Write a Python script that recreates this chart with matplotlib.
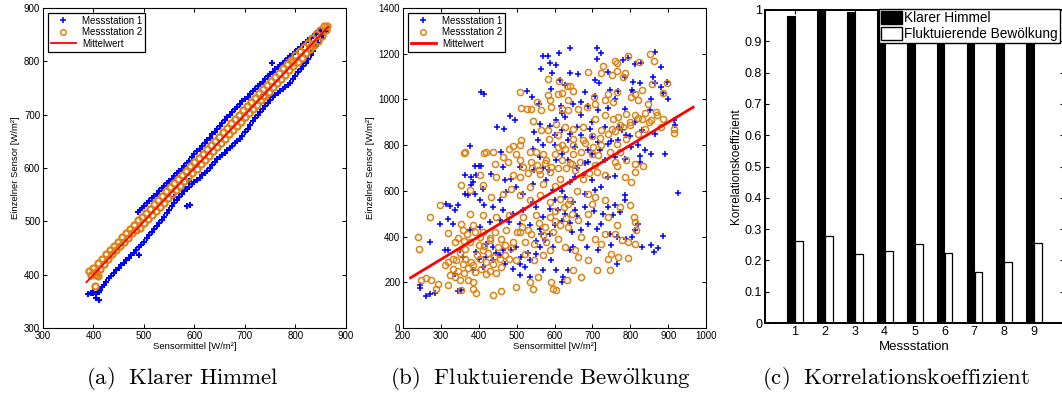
import numpy as np
import matplotlib
matplotlib.use('Agg')
import matplotlib.pyplot as plt
from matplotlib.patches import Patch
from matplotlib.lines import Line2D

plt.rcParams['font.family'] = ['Liberation Sans', 'DejaVu Sans']
plt.rcParams['mathtext.fontset'] = 'cm'

# --- (a) Klarer Himmel ---
a_s1_low_x = [390, 395, 400, 405, 410, 413, 417, 420, 425, 430, 435, 440, 445, 450, 455, 460, 465, 470, 475, 480,
              485, 490, 495, 500, 505, 510, 515, 520, 525, 530, 535, 540, 545, 550, 555, 560, 565, 570, 575, 580,
              585, 590, 595, 600, 605, 610, 615, 620, 625, 630, 635, 640, 645, 650, 655, 660, 665, 670, 675, 680,
              685, 690, 695, 700, 705, 710, 715, 720, 725, 730, 735, 740, 745, 750, 755, 760, 765, 770, 775, 780,
              785, 790, 795, 800, 805, 810, 815, 820, 825, 830, 835, 840, 845, 850, 855, 860]
a_s1_low_y = [363, 365, 366, 364, 368, 372, 376, 380, 387, 393, 398, 403, 409, 413, 418, 422, 427, 432, 437, 441,
              446, 451, 456, 462, 468, 474, 480, 486, 492, 497, 503, 509, 515, 521, 528, 534, 540, 546, 552, 557,
              561, 565, 570, 574, 578, 582, 586, 591, 595, 600, 605, 611, 616, 621, 625, 629, 634, 638, 642, 646,
              650, 654, 660, 667, 674, 681, 688, 694, 699, 705, 711, 717, 722, 728, 733, 737, 741, 745, 749, 752,
              756, 760, 766, 773, 780, 786, 791, 797, 804, 812, 820, 828, 834, 842, 850, 856]
a_s1_up_x = [488, 492, 496, 500, 505, 510, 515, 520, 525, 530, 535, 540, 545, 550, 555, 560, 565, 570, 575, 580,
             585, 590, 595, 600, 605, 610, 615, 620, 625, 630, 635, 640, 645, 650, 655, 660, 665, 670, 675, 680,
             685, 690, 695, 700, 705, 710, 715, 720, 725, 730, 735, 740, 745, 750, 755, 760, 765, 770, 775, 780,
             785, 790, 795, 800, 805, 810, 815, 820, 825, 830, 835, 840, 845, 850]
a_s1_up_y = [517, 521, 525, 529, 534, 539, 543, 548, 552, 557, 562, 566, 571, 575, 580, 585, 590, 594, 599, 604,
             609, 614, 620, 626, 631, 636, 641, 647, 652, 657, 663, 668, 674, 679, 684, 690, 695, 700, 705, 710,
             715, 720, 725, 729, 734, 739, 744, 749, 754, 758, 762, 767, 772, 776, 780, 785, 789, 793, 797, 801,
             806, 810, 814, 818, 823, 827, 832, 836, 840, 844, 848, 852, 856, 859]
a_s1_extra_x = [405, 410, 400, 490, 585, 592, 560, 753, 590, 582]
a_s1_extra_y = [357, 352, 368, 437, 528, 530, 545, 796, 575, 560]

a_s2_up_x = [392, 400, 408, 416, 424, 432, 440, 448, 456, 464, 472, 480, 488, 496, 504, 512, 520, 528, 536, 544,
             552, 560, 568, 576, 584, 592, 600, 608, 616, 624, 632, 640, 648, 656, 664, 672, 680, 688, 696, 704,
             712, 720, 728, 736, 744, 752, 760, 768, 776, 784, 792, 800, 808, 816, 824, 832, 840, 848, 856, 862]
a_s2_up_y = [406, 412, 421, 430, 438, 447, 454, 462, 470, 478, 486, 494, 502, 508, 516, 524, 532, 540, 548, 556,
             564, 571, 579, 587, 595, 603, 611, 619, 627, 635, 643, 651, 659, 667, 675, 684, 692, 700, 708, 716,
             724, 732, 740, 748, 756, 764, 771, 779, 787, 795, 803, 811, 819, 827, 835, 843, 851, 859, 866, 866]
a_s2_low_x = [396, 404, 412, 420, 428, 436, 444, 452, 460, 468, 476, 484, 492, 500, 508, 516, 524, 532, 540, 548,
              556, 564, 572, 580, 588, 596, 604, 612, 620, 628, 636, 644, 652, 660, 668, 676, 684, 692, 700, 708,
              716, 724, 732, 740, 748, 756, 764, 772, 780, 788, 796, 804, 812, 820, 828, 836, 844, 852, 860]
a_s2_low_y = [400, 405, 411, 420, 430, 438, 446, 454, 461, 469, 478, 484, 488, 496, 504, 511, 519, 527, 535, 543,
              551, 559, 567, 575, 583, 591, 599, 607, 615, 623, 631, 639, 647, 655, 663, 671, 679, 687, 695, 703,
              711, 719, 727, 735, 743, 751, 759, 767, 775, 783, 791, 799, 807, 815, 823, 831, 839, 848, 858]
a_s2_extra_x = [402, 405, 408, 735, 795, 830]
a_s2_extra_y = [378, 399, 397, 735, 798, 828]

a_mean_x = [386, 865]
a_mean_y = [386, 865]

# --- (b) Fluktuierende Bewoelkung ---
b_s1 = [(569, 1189), (583, 1189), (587, 1159), (565, 1135), (594, 1116), (405, 1032), (414, 1022), (527, 1035),
        (590, 1044), (483, 926), (495, 912), (449, 879), (466, 872), (547, 858), (562, 894), (376, 795), (587, 882),
        (600, 843), (459, 770), (389, 707), (400, 710), (407, 710), (508, 704), (556, 821), (569, 799), (543, 785),
        (561, 748), (464, 704),
        (641, 1226), (711, 1226), (724, 1205), (711, 1178), (612, 1203), (605, 1149), (640, 1117), (663, 1110),
        (706, 1086), (717, 1072), (793, 1183), (865, 1207), (812, 1156), (828, 1161), (781, 1171), (786, 1098),
        (808, 1076), (825, 1072), (805, 1043), (865, 1073), (882, 1054), (896, 1075), (887, 1028), (854, 1003),
        (614, 1086), (629, 1062), (680, 1033), (706, 1014), (746, 1043), (768, 1037), (808, 1033), (649, 981),
        (671, 989), (689, 970), (715, 955), (742, 964), (786, 960), (852, 952), (617, 970), (605, 909), (627, 923),
        (671, 930), (693, 872), (733, 879), (777, 865), (812, 901), (830, 865), (865, 850), (916, 909), (918, 890),
        (619, 865), (636, 821), (671, 843), (698, 836), (715, 814), (742, 804), (768, 821), (790, 843), (803, 792),
        (689, 777), (654, 792), (619, 763), (759, 748), (786, 741), (825, 751), (825, 726), (856, 763), (891, 763),
        (733, 734), (689, 726), (636, 734), (605, 734),
        (363, 668), (380, 661), (393, 668), (433, 675), (468, 646), (486, 654), (380, 624), (385, 639), (371, 581),
        (363, 585), (389, 588), (402, 559), (415, 537), (314, 541), (323, 533), (336, 515), (345, 537), (297, 457),
        (319, 479), (332, 457), (270, 376), (310, 340), (319, 340), (350, 340), (358, 311), (244, 187), (244, 177),
        (262, 140), (272, 148), (284, 153), (345, 162), (354, 168), (336, 238), (385, 253), (411, 267), (437, 296),
        (455, 318), (464, 340), (486, 340), (499, 355), (512, 311), (508, 231), (521, 267), (534, 296), (552, 325),
        (561, 355), (574, 384), (587, 413), (561, 435), (534, 449), (508, 457), (481, 464), (455, 471), (429, 464),
        (402, 442), (376, 428), (569, 486), (587, 522), (543, 551), (517, 588), (499, 617), (543, 632), (578, 646),
        (596, 603), (437, 530), (455, 559), (473, 595), (411, 610), (464, 515), (490, 500), (517, 515), (552, 530),
        (420, 369), (437, 355), (393, 333), (596, 355), (591, 296), (569, 253), (534, 223),
        (925, 592), (787, 584), (786, 559), (759, 537), (772, 508), (755, 493), (742, 530), (729, 500), (705, 512),
        (680, 530), (654, 515), (627, 500), (610, 515), (821, 457), (812, 430), (805, 398), (830, 355), (856, 362),
        (872, 352), (863, 333), (887, 401), (790, 391), (764, 398), (746, 413), (711, 435), (724, 457), (689, 457),
        (671, 428), (645, 420), (641, 340), (649, 355), (685, 355), (715, 340), (750, 362), (764, 282), (605, 253),
        (623, 223), (636, 253), (619, 202), (654, 661), (676, 668), (698, 646), (742, 661), (759, 664), (627, 573),
        (649, 551), (680, 588), (707, 603), (724, 617), (545, 690), (570, 700), (585, 690),
        (400, 300), (420, 310), (445, 330), (470, 280), (490, 260), (510, 280), (530, 330), (550, 380), (565, 410),
        (600, 450), (620, 470), (640, 460), (660, 490), (600, 560), (620, 600), (640, 640), (660, 700), (680, 720),
        (700, 760), (720, 780), (750, 820), (770, 880), (800, 840), (820, 800), (840, 780), (600, 800), (640, 850),
        (660, 880), (700, 900), (620, 940), (560, 980), (540, 1010), (860, 1100), (880, 1140), (900, 1000),
        (760, 1000), (740, 1120)]
b_s2 = [(584, 1091), (510, 1033), (512, 964), (527, 958), (539, 960), (554, 989), (565, 952), (587, 996), (591, 967),
        (583, 1018), (543, 906), (565, 865), (583, 868), (586, 828), (512, 821), (508, 799), (481, 785), (490, 795),
        (420, 770), (414, 766), (437, 770), (363, 770), (360, 766), (464, 748), (442, 719), (499, 763), (534, 770),
        (552, 770), (569, 763), (578, 734), (508, 734), (517, 704), (539, 726), (477, 726),
        (852, 1200), (862, 1167), (759, 1168), (766, 1159), (728, 1145), (724, 1116), (689, 1120), (794, 1189),
        (824, 1164), (751, 1105), (764, 1124), (786, 1116), (781, 1098), (613, 1081), (632, 1057), (641, 1057),
        (648, 1035), (608, 1022), (619, 1028), (705, 1011), (742, 1022), (764, 1033), (812, 1022), (831, 1043),
        (858, 1066), (896, 1072), (887, 1028), (636, 996), (663, 960), (685, 967), (707, 981), (733, 996), (755, 989),
        (803, 1011), (821, 996), (847, 981), (869, 945), (887, 916), (915, 872), (916, 853), (619, 960), (636, 952),
        (707, 916), (733, 930), (755, 916), (768, 923), (790, 938), (812, 930), (831, 916), (856, 909), (605, 894),
        (627, 879), (649, 872), (676, 879), (724, 865), (751, 872), (772, 887), (799, 887), (839, 872), (610, 843),
        (649, 828), (676, 824), (702, 792), (724, 799), (764, 804), (790, 828), (821, 850), (610, 792), (627, 785),
        (649, 763), (671, 770), (698, 763), (715, 755), (746, 770), (772, 770), (619, 734), (645, 719), (667, 726),
        (759, 726), (790, 734), (812, 719), (834, 707), (764, 707), (707, 712),
        (240, 398), (242, 344), (270, 486), (297, 537), (319, 416), (336, 377), (354, 457), (354, 624), (376, 603),
        (411, 624), (433, 573), (464, 588), (486, 610), (508, 581), (534, 559), (561, 581), (587, 551), (446, 661),
        (490, 668), (508, 661), (402, 668), (260, 220), (248, 209), (275, 209), (292, 194), (288, 172), (319, 187),
        (323, 231), (336, 223), (350, 209), (371, 209), (385, 202), (354, 165), (393, 153), (385, 172), (437, 143),
        (459, 162), (499, 180), (534, 202), (543, 172), (556, 223), (591, 202), (596, 172), (319, 289), (341, 296),
        (358, 282), (385, 274), (402, 304), (420, 289), (437, 282), (459, 267), (481, 304), (499, 296), (521, 325),
        (547, 296), (569, 318), (587, 340), (363, 347), (376, 377), (402, 398), (429, 384), (459, 391), (490, 377),
        (521, 377), (547, 369), (578, 377), (358, 428), (385, 449), (411, 420), (442, 420), (473, 428), (508, 420),
        (539, 413), (569, 406), (596, 420), (376, 500), (411, 493), (446, 486), (481, 493), (517, 486), (552, 493),
        (587, 486), (534, 617), (569, 632), (561, 675), (587, 683), (332, 304), (310, 274), (332, 260),
        (711, 683), (733, 668), (786, 661), (812, 683), (802, 639), (689, 588), (707, 573), (733, 559), (799, 537),
        (772, 530), (810, 486), (812, 464), (814, 428), (764, 449), (759, 413), (733, 413), (724, 369), (707, 391),
        (777, 384), (794, 377), (812, 366), (750, 325), (768, 311), (793, 308), (742, 304), (746, 253), (711, 253),
        (689, 296), (663, 311), (649, 253), (671, 223), (632, 212), (605, 165), (654, 340), (627, 355), (610, 391),
        (636, 442), (663, 471), (689, 500), (636, 544), (614, 566), (698, 544), (742, 486), (671, 398),
        (540, 700), (560, 690), (575, 720), (590, 705), (530, 680), (555, 715),
        (345, 250), (360, 240), (372, 262), (390, 245), (405, 258), (418, 236), (430, 250), (445, 240), (455, 300),
        (470, 320), (395, 320), (410, 340), (425, 330), (440, 310), (350, 330), (365, 300), (380, 290), (345, 395),
        (360, 380), (370, 410), (390, 420), (400, 365), (415, 360), (430, 395), (450, 355), (470, 365), (485, 350),
        (500, 420), (515, 440), (530, 430), (560, 460), (575, 440), (600, 470), (615, 450), (630, 480), (645, 500),
        (600, 510), (625, 530), (640, 560), (660, 600), (600, 620), (615, 650), (630, 700), (610, 700), (640, 720),
        (655, 690), (675, 650), (690, 680), (600, 760), (620, 800), (650, 800), (680, 810), (700, 840), (720, 830),
        (740, 850), (760, 860), (780, 880), (800, 900), (820, 920), (840, 940), (850, 900), (870, 930), (880, 880)]
b_mean_x = [220, 966]
b_mean_y = [220, 966]

# --- (c) Korrelationskoeffizient ---
stations = [1, 2, 3, 4, 5, 6, 7, 8, 9]
r_klar = [0.982, 0.998, 0.995, 0.999, 0.999, 0.999, 0.999, 0.999, 0.999]
r_fluk = [0.262, 0.277, 0.219, 0.230, 0.253, 0.223, 0.163, 0.195, 0.255]
c_yticks = [0, 0.1, 0.2, 0.3, 0.4, 0.5, 0.6, 0.7, 0.8, 0.9, 1]
c_yticklabels = ['0', '0.1', '0.2', '0.3', '0.4', '0.5', '0.6', '0.7', '0.8', '0.9', '1']

blue = '#0000ff'
orange = '#dd8214'
W, H = 1062, 398
fig = plt.figure(figsize=(W / 100, H / 100), dpi=100)


def box(l, t, r, b):
    return [l / W, 1 - b / H, (r - l) / W, (b - t) / H]


ax1 = fig.add_axes(box(43, 8, 346, 328))
ax2 = fig.add_axes(box(403, 8, 706, 328))
ax3 = fig.add_axes(box(765, 10, 1064, 323))

mk = dict(linestyle='none', markersize=4.4)
ax1.plot(a_s1_low_x + a_s1_up_x + a_s1_extra_x, a_s1_low_y + a_s1_up_y + a_s1_extra_y,
         marker='+', color=blue, mew=1.5, **mk)
ax1.plot(a_s2_up_x + a_s2_low_x + a_s2_extra_x, a_s2_up_y + a_s2_low_y + a_s2_extra_y,
         marker='o', mfc='none', mec=orange, mew=1.6, **mk)
ax1.plot(a_mean_x, a_mean_y, color='red', lw=1.3)
ax1.set_xlim(300, 900)
ax1.set_ylim(300, 900)
ax1.set_xlabel('Sensormittel [W/m²]', fontsize=6.8, labelpad=1)
ax1.set_ylabel('Einzelner Sensor [W/m²]', fontsize=6.8, labelpad=3)

bx1, by1 = zip(*b_s1)
bx2, by2 = zip(*b_s2)
ax2.plot(bx1, by1, marker='+', color=blue, mew=1.1, **mk)
ax2.plot(bx2, by2, marker='o', mfc='none', mec=orange, mew=1.1, **mk)
ax2.plot(b_mean_x, b_mean_y, color='red', lw=2)
ax2.set_xlim(200, 1000)
ax2.set_ylim(0, 1400)
ax2.set_xlabel('Sensormittel [W/m²]', fontsize=6.8, labelpad=1)
ax2.set_ylabel('Einzelner Sensor [W/m²]', fontsize=6.8, labelpad=3)

for ax, lw in ((ax1, 1.3), (ax2, 2)):
    h = [Line2D([], [], marker='+', color=blue, ls='none', mew=1.1, markersize=4),
         Line2D([], [], marker='o', mfc='none', mec=orange, ls='none', mew=1.1, markersize=4),
         Line2D([], [], color='red', lw=lw)]
    leg = ax.legend(h, ['Messstation 1', 'Messstation 2', 'Mittelwert'], loc='upper left',
                    fontsize=7, frameon=True, fancybox=False, framealpha=1, borderpad=0.3, labelspacing=0.15,
                    handlelength=2.6, handletextpad=0.6, borderaxespad=0.5)
    leg.get_frame().set_edgecolor('black')
    leg.get_frame().set_linewidth(0.9)
    ax.tick_params(direction='in', top=True, right=True, length=3, width=0.7, labelsize=7, pad=2)
    for s in ax.spines.values():
        s.set_linewidth(0.8)

x = np.array(stations)
ax3.bar(x - 0.13, r_klar, width=0.26, color='black', edgecolor='black', lw=0.8, label='Klarer Himmel')
ax3.bar(x + 0.14, r_fluk, width=0.26, color='white', edgecolor='black', lw=0.9, label='Fluktuierende Bewölkung')
ax3.set_xlim(0, 10)
ax3.set_ylim(0, 1)
ax3.set_xticks(stations)
ax3.set_yticks(c_yticks)
ax3.set_yticklabels(c_yticklabels)
ax3.tick_params(direction='in', top=True, right=True, length=3, width=0.8, labelsize=9, pad=2)
ax3.set_xlabel('Messstation', fontsize=9.5, labelpad=2)
ax3.set_ylabel('Korrelationskoeffizient', fontsize=8.5, labelpad=2)
for s in ax3.spines.values():
    s.set_linewidth(1.4)
leg3 = ax3.legend(handles=[Patch(facecolor='black', edgecolor='black'),
                           Patch(facecolor='white', edgecolor='black')],
                  labels=['Klarer Himmel', 'Fluktuierende Bewölkung'],
                  loc='upper right', bbox_to_anchor=(1060 / W, 1 - 9 / H), bbox_transform=fig.transFigure,
                  fontsize=9.8, frameon=True, fancybox=False, framealpha=1, borderpad=0.15, labelspacing=0.1,
                  handlelength=1.5, handleheight=1.1, handletextpad=0.2, borderaxespad=0)
leg3.get_frame().set_edgecolor('black')
leg3.get_frame().set_linewidth(1.0)

cap = dict(fontsize=16.5, ha='center', va='center')
fig.text(182 / W, 1 - 378 / H, r'$\mathrm{(a)\ \ Klarer\ Himmel}$', **cap)
fig.text(540 / W, 1 - 378 / H, r'$\mathrm{(b)\ \ Fluktuierende\ Bew\ddot{o}lkung}$', **cap)
fig.text(896 / W, 1 - 378 / H, r'$\mathrm{(c)\ \ Korrelationskoeffizient}$', **cap)

fig.savefig('out.png', dpi=100)
